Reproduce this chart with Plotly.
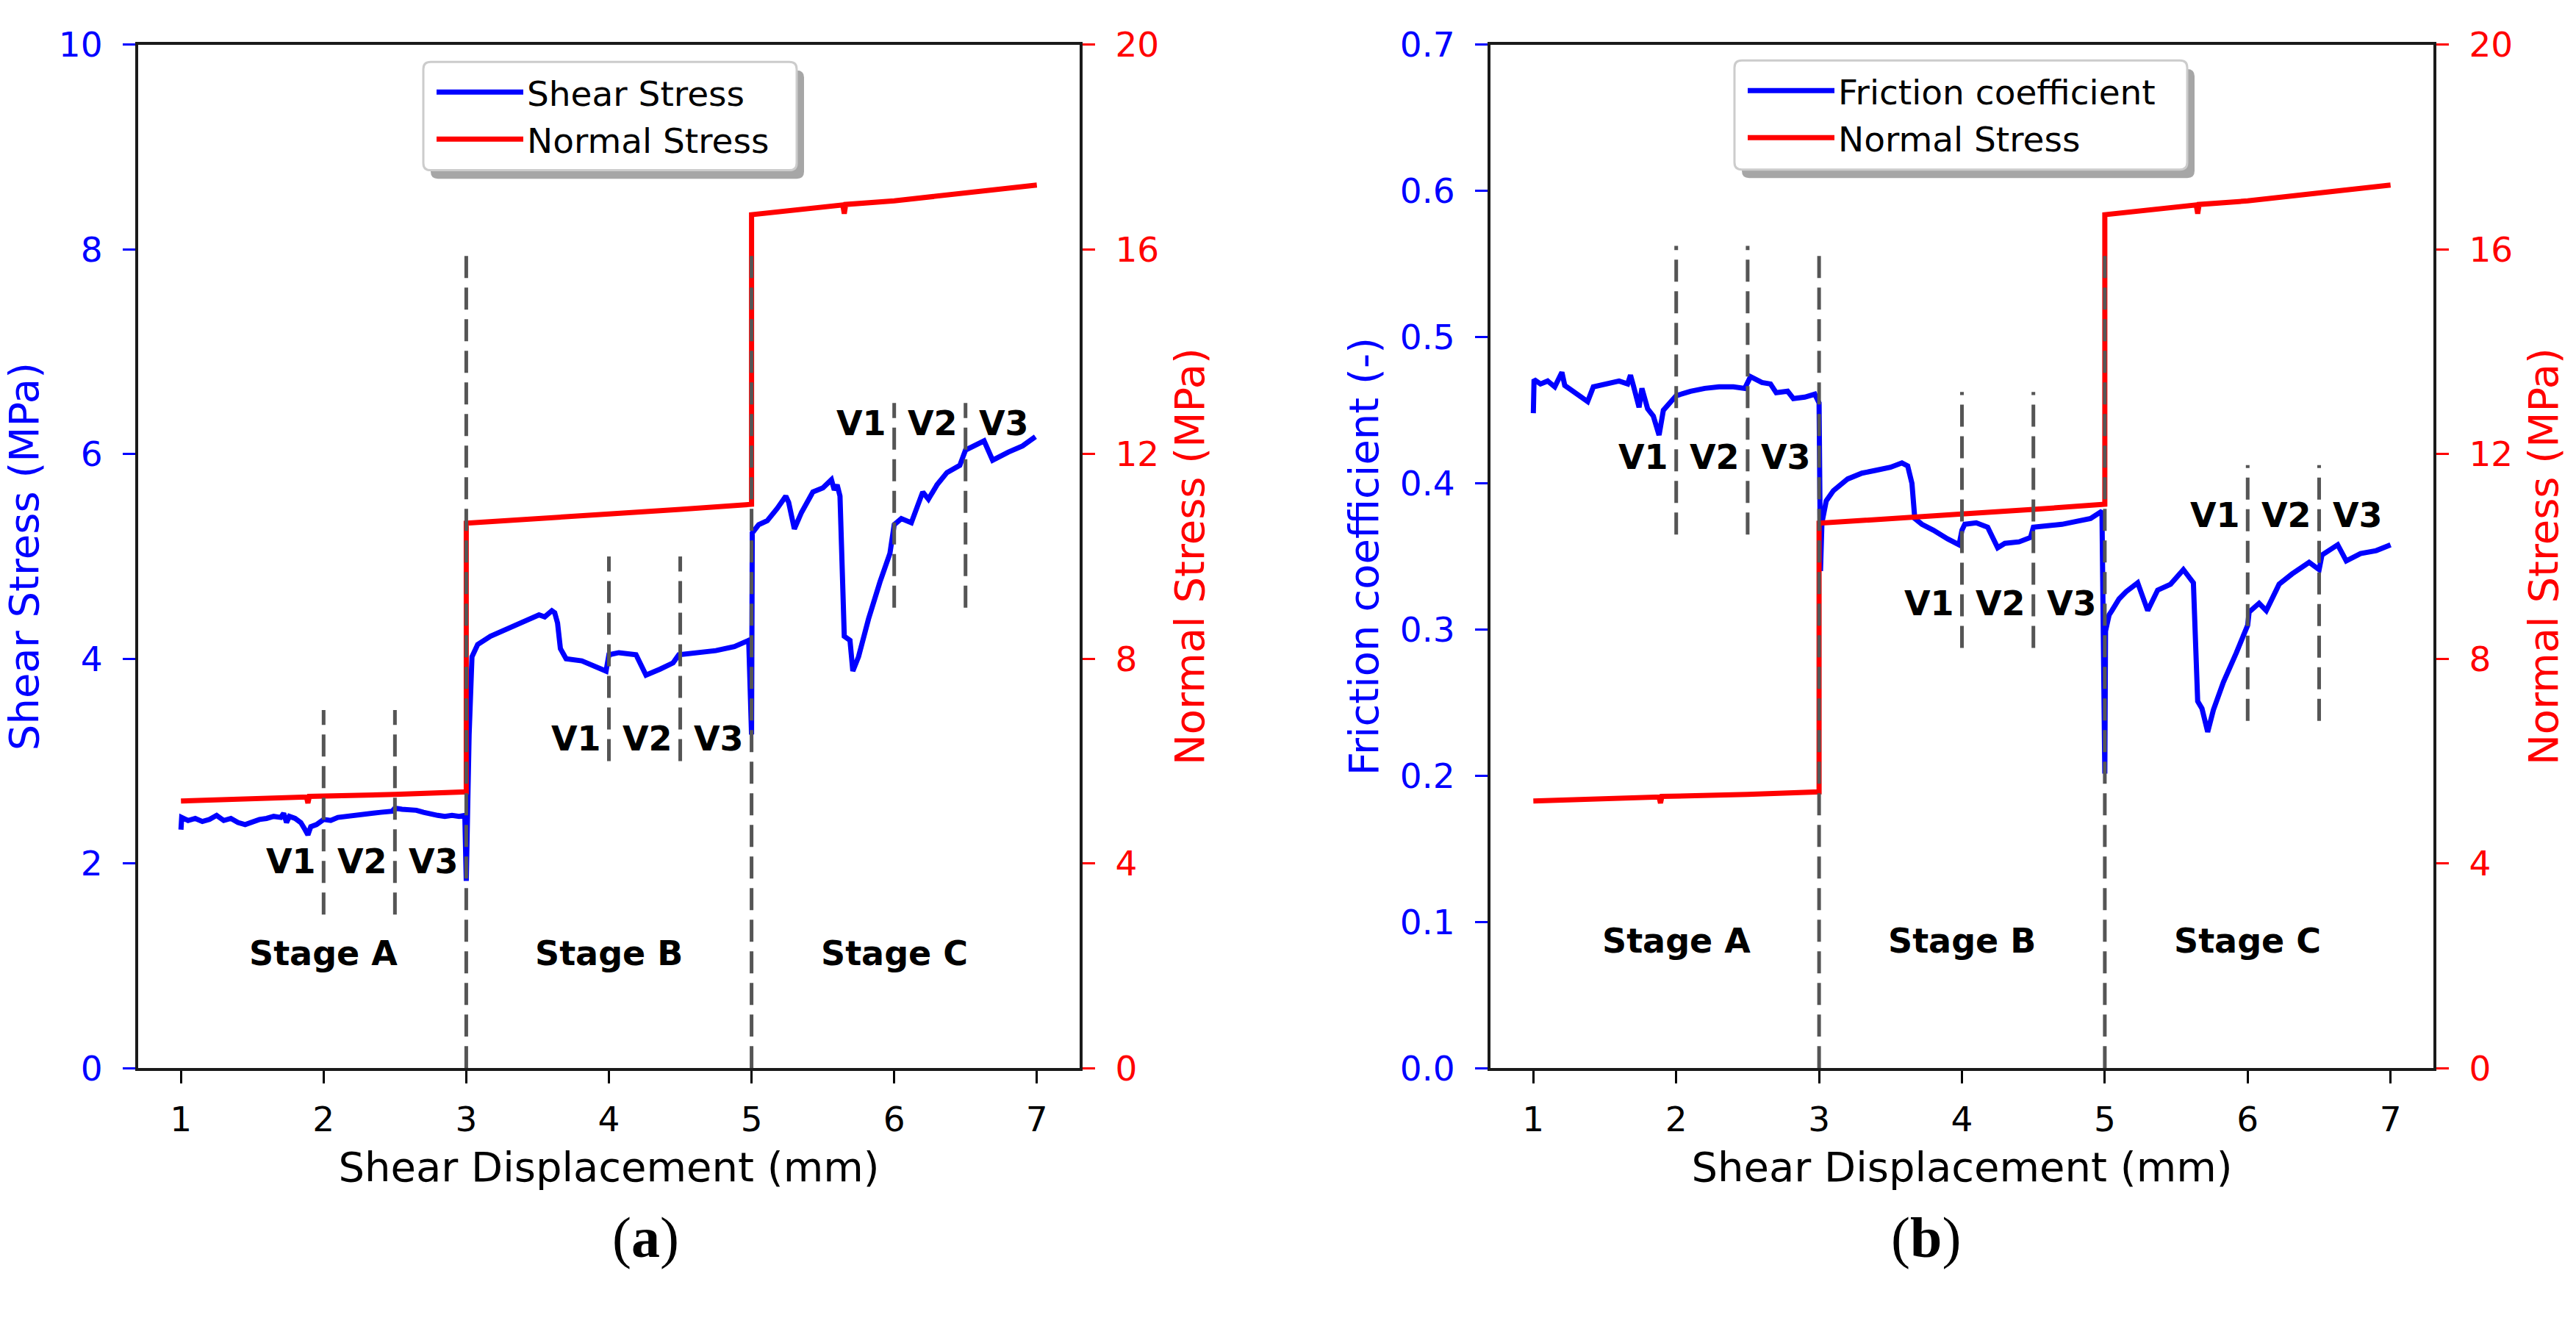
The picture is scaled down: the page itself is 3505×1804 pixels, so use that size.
import plotly.graph_objects as go

# ---------------- data ----------------
shear_x = [1.00, 1.005, 1.05, 1.10, 1.15, 1.20, 1.25, 1.30, 1.35, 1.40, 1.45, 1.50, 1.55, 1.60,
           1.65, 1.70, 1.72, 1.74, 1.76, 1.80, 1.84, 1.87, 1.89, 1.91, 1.95, 2.00, 2.05, 2.10,
           2.20, 2.30, 2.40, 2.48, 2.50, 2.55, 2.60, 2.65, 2.70, 2.75, 2.80, 2.85, 2.90, 2.95,
           2.99, 3.00, 3.02, 3.04, 3.08, 3.17, 3.30, 3.43, 3.51, 3.55, 3.60, 3.62, 3.64, 3.66,
           3.70, 3.81, 3.90, 3.98, 4.00, 4.07, 4.19, 4.24, 4.26, 4.36, 4.45, 4.49, 4.62, 4.75,
           4.88, 4.98, 5.00, 5.005, 5.05, 5.11, 5.18, 5.24, 5.26, 5.30, 5.35, 5.43, 5.50, 5.56,
           5.58, 5.60, 5.62, 5.65, 5.69, 5.71, 5.75, 5.82, 5.90, 5.97, 6.00, 6.05, 6.12, 6.20,
           6.24, 6.30, 6.37, 6.46, 6.50, 6.56, 6.63, 6.69, 6.74, 6.80, 6.90, 6.99]
shear_y = [2.33, 2.45, 2.42, 2.44, 2.41, 2.43, 2.47, 2.42, 2.44, 2.40, 2.38, 2.41, 2.43, 2.44,
           2.46, 2.45, 2.49, 2.40, 2.46, 2.44, 2.40, 2.33, 2.28, 2.36, 2.38, 2.43, 2.42, 2.45,
           2.47, 2.48, 2.50, 2.51, 2.54, 2.53, 2.53, 2.52, 2.50, 2.48, 2.47, 2.46, 2.47, 2.46,
           2.47, 1.83, 3.26, 4.02, 4.14, 4.22, 4.30, 4.39, 4.43, 4.41, 4.47, 4.45, 4.35, 4.10,
           4.00, 3.98, 3.92, 3.88, 4.04, 4.06, 4.04, 3.90, 3.84, 3.90, 3.96, 4.04, 4.06, 4.08,
           4.12, 4.18, 3.26, 5.23, 5.31, 5.35, 5.47, 5.59, 5.53, 5.27, 5.43, 5.63, 5.67, 5.75,
           5.65, 5.70, 5.59, 4.22, 4.18, 3.88, 4.02, 4.39, 4.75, 5.03, 5.31, 5.37, 5.33, 5.63,
           5.56, 5.70, 5.82, 5.89, 6.04, 6.08, 6.13, 5.94, 5.98, 6.02, 6.08, 6.17]

normal_x = [1.00, 1.50, 1.88, 1.89, 1.90, 2.50, 3.00, 3.00, 3.50, 4.00, 4.50, 5.00, 5.00,
            5.50, 5.64, 5.65, 5.66, 6.00, 6.50, 7.00]
normal_y = [5.22, 5.27, 5.30, 5.18, 5.31, 5.35, 5.40, 10.65, 10.75, 10.83, 10.92, 11.02, 16.68,
            16.83, 16.87, 16.70, 16.88, 16.95, 17.10, 17.26]

friction_x = [1.00, 1.005, 1.05, 1.10, 1.15, 1.20, 1.22, 1.30, 1.38, 1.42, 1.50, 1.60, 1.66,
              1.68, 1.70, 1.74, 1.76, 1.80, 1.84, 1.88, 1.91, 1.96, 2.00, 2.10, 2.20, 2.30,
              2.40, 2.48, 2.52, 2.60, 2.66, 2.70, 2.78, 2.82, 2.90, 2.97, 3.00, 3.01, 3.02,
              3.05, 3.10, 3.20, 3.30, 3.40, 3.50, 3.58, 3.62, 3.65, 3.67, 3.72, 3.80, 3.90,
              3.98, 4.00, 4.02, 4.10, 4.18, 4.22, 4.25, 4.30, 4.40, 4.48, 4.50, 4.60, 4.70,
              4.80, 4.90, 4.98, 5.00, 5.005, 5.03, 5.05, 5.10, 5.15, 5.23, 5.30, 5.37, 5.46,
              5.55, 5.62, 5.65, 5.68, 5.72, 5.76, 5.83, 5.92, 6.00, 6.01, 6.08, 6.13, 6.22,
              6.31, 6.43, 6.50, 6.52, 6.63, 6.69, 6.79, 6.90, 7.00]
friction_y = [0.448, 0.471, 0.468, 0.470, 0.466, 0.476, 0.467, 0.462, 0.456, 0.466, 0.468,
              0.470, 0.468, 0.474, 0.467, 0.452, 0.465, 0.451, 0.446, 0.433, 0.450, 0.456,
              0.460, 0.463, 0.465, 0.466, 0.466, 0.465, 0.473, 0.469, 0.468, 0.462, 0.463,
              0.458, 0.459, 0.461, 0.455, 0.340, 0.373, 0.388, 0.395, 0.403, 0.407, 0.409,
              0.411, 0.414, 0.412, 0.400, 0.376, 0.372, 0.368, 0.362, 0.358, 0.368, 0.372,
              0.373, 0.370, 0.362, 0.356, 0.359, 0.360, 0.363, 0.370, 0.371, 0.372, 0.374,
              0.376, 0.381, 0.2015, 0.299, 0.310, 0.313, 0.321, 0.326, 0.332, 0.313, 0.327,
              0.331, 0.341, 0.332, 0.251, 0.246, 0.230, 0.245, 0.264, 0.284, 0.303, 0.312,
              0.318, 0.313, 0.331, 0.338, 0.346, 0.341, 0.351, 0.358, 0.347, 0.352, 0.354,
              0.358]

x_ticks = [1, 2, 3, 4, 5, 6, 7]
shear_ticks = [0, 2, 4, 6, 8, 10]
normal_ticks = [0, 4, 8, 12, 16, 20]
friction_ticks = [0.0, 0.1, 0.2, 0.3, 0.4, 0.5, 0.6, 0.7]

# vertical dashed marker lines: x, bottom, top
vline_x = [2, 2.5, 3, 4, 4.5, 5, 6, 6.5]
vline_shear_y0 = [1.5, 1.5, 0, 3, 3, 0, 4.5, 4.5]
vline_shear_y1 = [3.5, 3.5, 8, 5, 5, 8, 6.5, 6.5]
vline_fric_y0 = [0.365, 0.365, 0, 0.2875, 0.2875, 0, 0.2375, 0.2375]
vline_fric_y1 = [0.5625, 0.5625, 0.56, 0.4625, 0.4625, 0.56, 0.4125, 0.4125]

v_labels = ["V1", "V2", "V3"]
v_label_x = [[1.77, 2.27, 2.77], [3.77, 4.27, 4.77], [5.77, 6.27, 6.77]]
v_label_shear_y = [2.02, 3.22, 6.30]
v_label_fric_y = [0.418, 0.318, 0.378]
stage_names = ["Stage A", "Stage B", "Stage C"]
stage_x = [2, 4, 6]
stage_shear_y = 1.12
stage_fric_y = 0.087

# ---------------- styling ----------------
W, H = 3505, 1804
BLUE = "#0000ff"
RED = "#ff0000"
DASH = "#555555"
FONT = "DejaVu Sans"
TICK_FS = 47
TITLE_FS = 56
LBL_FS = 46
AXLINE = "#1a1a1a"

fig = go.Figure()

fig.add_trace(go.Scatter(x=shear_x, y=shear_y, mode="lines", name="Shear Stress",
                         line=dict(color=BLUE, width=7), xaxis="x", yaxis="y", legend="legend"))
fig.add_trace(go.Scatter(x=normal_x, y=normal_y, mode="lines", name="Normal Stress",
                         line=dict(color=RED, width=7), xaxis="x", yaxis="y2", legend="legend"))
fig.add_trace(go.Scatter(x=friction_x, y=friction_y, mode="lines", name="Friction coefficient",
                         line=dict(color=BLUE, width=7), xaxis="x2", yaxis="y3", legend="legend2"))
fig.add_trace(go.Scatter(x=normal_x, y=normal_y, mode="lines", name="Normal Stress",
                         line=dict(color=RED, width=7), xaxis="x2", yaxis="y4", legend="legend2"))

# dashed lines
for xv, a0, a1, b0, b1 in zip(vline_x, vline_shear_y0, vline_shear_y1, vline_fric_y0, vline_fric_y1):
    fig.add_shape(type="line", xref="x", yref="y", x0=xv, x1=xv, y0=a0, y1=a1,
                  line=dict(color=DASH, width=5, dash="30px,13px"), layer="above")
    fig.add_shape(type="line", xref="x2", yref="y3", x0=xv, x1=xv, y0=b0, y1=b1,
                  line=dict(color=DASH, width=5, dash="30px,13px"), layer="above")

# V labels and stage labels
for grp, ys, yf in zip(v_label_x, v_label_shear_y, v_label_fric_y):
    for xv, t in zip(grp, v_labels):
        fig.add_annotation(x=xv, y=ys, xref="x", yref="y", text="<b>%s</b>" % t, showarrow=False,
                           font=dict(family=FONT, size=LBL_FS, color="black"))
        fig.add_annotation(x=xv, y=yf, xref="x2", yref="y3", text="<b>%s</b>" % t, showarrow=False,
                           font=dict(family=FONT, size=LBL_FS, color="black"))
for xs, t in zip(stage_x, stage_names):
    fig.add_annotation(x=xs, y=stage_shear_y, xref="x", yref="y", text="<b>%s</b>" % t,
                       showarrow=False, font=dict(family=FONT, size=LBL_FS, color="black"))
    fig.add_annotation(x=xs, y=stage_fric_y, xref="x2", yref="y3", text="<b>%s</b>" % t,
                       showarrow=False, font=dict(family=FONT, size=LBL_FS, color="black"))

# captions
fig.add_annotation(x=831 / W, y=1 - 1755 / H, xref="paper", yref="paper", text="(<b>a</b>)",
                   showarrow=False, font=dict(family="Liberation Serif", size=78, color="black"))
fig.add_annotation(x=2670 / W, y=1 - 1755 / H, xref="paper", yref="paper", text="(<b>b</b>)",
                   showarrow=False, font=dict(family="Liberation Serif", size=78, color="black"))


def rounded_rect(x0, y0, x1, y1, r):
    # pixel coords (top-left origin) -> paper path
    def px(x):
        return x / W

    def py(y):
        return 1 - y / H
    return ("M %f,%f L %f,%f Q %f,%f %f,%f L %f,%f Q %f,%f %f,%f L %f,%f Q %f,%f %f,%f "
            "L %f,%f Q %f,%f %f,%f Z" % (
                px(x0 + r), py(y0), px(x1 - r), py(y0), px(x1), py(y0), px(x1), py(y0 + r),
                px(x1), py(y1 - r), px(x1), py(y1), px(x1 - r), py(y1),
                px(x0 + r), py(y1), px(x0), py(y1), px(x0), py(y1 - r),
                px(x0), py(y0 + r), px(x0), py(y0), px(x0 + r), py(y0)))


# legend frames (matplotlib-style fancy box with shadow)
for x0, y0, x1, y1 in [(576, 58, 1084, 210), (2360, 56, 2976, 209)]:
    fig.add_shape(type="path", xref="paper", yref="paper",
                  path=rounded_rect(x0 + 10, y0 + 12, x1 + 10, y1 + 12, 10),
                  fillcolor="#a6a6a6", line=dict(width=0), layer="above")
    fig.add_shape(type="path", xref="paper", yref="paper",
                  path=rounded_rect(x0, y0, x1, y1, 10),
                  fillcolor="white", line=dict(color="#cccccc", width=3), layer="above")

dom_y = [1 - 1470 / H, 1 - 34 / H]
dom_x1 = [188 / W, 1469 / W]
dom_x2 = [2028 / W, 3311 / W]

xcommon = dict(range=[0.7, 7.3], tickvals=x_ticks, ticks="outside", ticklen=17, tickwidth=3,
               tickcolor="black", showline=True, linecolor=AXLINE, linewidth=4, mirror=True,
               showgrid=False, zeroline=False, ticklabelstandoff=8,
               tickfont=dict(family=FONT, size=TICK_FS, color="black"),
               title=dict(text="Shear Displacement (mm)", standoff=20,
                          font=dict(family=FONT, size=TITLE_FS, color="black")))


def yax(rng, tv, color, title, side="left", overlay=None, fmt=None, standoff=18):
    d = dict(range=rng, tickvals=tv, ticks="outside", ticklen=17, tickwidth=3, tickcolor=color,
             showline=True, linecolor=AXLINE, linewidth=4, showgrid=False, zeroline=False,
             ticklabelstandoff=18, side=side,
             tickfont=dict(family=FONT, size=TICK_FS, color=color),
             title=dict(text=title, standoff=standoff, font=dict(family=FONT, size=TITLE_FS, color=color)))
    if overlay:
        d["overlaying"] = overlay
    if fmt:
        d["tickformat"] = fmt
    return d


legend_common = dict(xanchor="left", yanchor="top", bgcolor="rgba(0,0,0,0)",
                     borderwidth=0, itemwidth=118,
                     font=dict(family=FONT, size=47, color="black"))

fig.update_layout(
    width=W, height=H, paper_bgcolor="white", plot_bgcolor="white",
    margin=dict(l=0, r=0, t=0, b=0),
    xaxis=dict(domain=dom_x1, anchor="y", **xcommon),
    xaxis2=dict(domain=dom_x2, anchor="y3", **xcommon),
    yaxis=dict(domain=dom_y, anchor="x", **yax([0, 10], shear_ticks, BLUE, "Shear Stress (MPa)", standoff=14)),
    yaxis2=dict(anchor="x", **yax([0, 20], normal_ticks, RED, "Normal Stress (MPa)", side="right",
                                   overlay="y", standoff=24)),
    yaxis3=dict(domain=dom_y, anchor="x2", **yax([0, 0.7], friction_ticks, BLUE, "Friction coefficient (-)",
                                                 fmt=".1f", standoff=12)),
    yaxis4=dict(anchor="x2", **yax([0, 20], normal_ticks, RED, "Normal Stress (MPa)", side="right",
                                    overlay="y3", standoff=24)),
    legend=dict(x=589 / W, y=1 - 62 / H, **legend_common),
    legend2=dict(x=2373 / W, y=1 - 60 / H, **legend_common),
    showlegend=True,
)

fig.write_html("out.html", config={"displayModeBar": False},
               post_script="document.body.style.margin='0px';")
